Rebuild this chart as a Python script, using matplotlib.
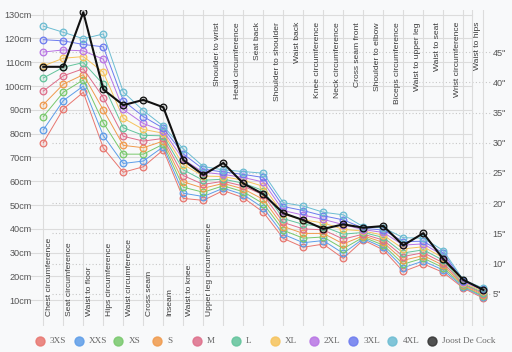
import matplotlib
matplotlib.use("Agg")
import matplotlib.pyplot as plt
from matplotlib.lines import Line2D

CATEGORIES = [
    "Chest circumference", "Seat circumference", "Waist to floor",
    "Hips circumference", "Waist circumference", "Cross seam", "Inseam",
    "Waist to knee", "Upper leg circumference", "Shoulder to wrist",
    "Head circumference", "Seat back", "Shoulder to shoulder", "Waist back",
    "Knee circumference", "Neck circumference", "Cross seam front",
    "Shoulder to elbow", "Biceps circumference", "Waist to upper leg",
    "Waist to seat", "Wrist circumference", "Waist to hips",
]
N_BOTTOM_LABELS = 9

SIZES = ["3XS", "XXS", "XS", "S", "M", "L", "XL", "2XL", "3XL", "4XL"]
COLORS = ["#e8766f", "#5d9de8", "#78c86c", "#f09a4c", "#de6e8a",
          "#62c39b", "#f6c35c", "#b874e4", "#6c7bef", "#6cbcd2"]

size_3xs = [76.2, 90.4, 97.4, 74.0, 63.8, 66.1, 73.2, 52.8, 52.0, 56.1, 53.1, 47.0,
            36.0, 32.3, 33.6, 27.6, 35.3, 31.2, 22.1, 25.3, 21.7, 15.1, 10.9]
size_xxs = [81.6, 93.9, 100.0, 79.2, 67.5, 68.5, 74.5, 55.0, 53.6, 57.1, 54.4, 48.8,
            37.7, 34.2, 35.1, 29.7, 35.9, 32.2, 23.7, 26.5, 22.7, 15.5, 11.4]
size_xs = [87.2, 97.4, 102.6, 84.6, 71.4, 71.4, 75.6, 57.5, 55.4, 58.1, 55.6, 50.6,
           39.4, 36.1, 36.6, 31.7, 36.5, 33.2, 25.2, 27.7, 23.7, 15.9, 11.8]
size_s = [92.2, 100.8, 104.8, 90.0, 75.1, 74.1, 76.9, 59.8, 57.1, 59.1, 56.8, 52.4,
          41.0, 38.1, 38.1, 33.7, 37.1, 34.3, 26.8, 28.8, 24.7, 16.3, 12.3]
size_m = [97.9, 104.3, 107.3, 95.2, 78.9, 76.9, 78.0, 62.4, 58.7, 60.0, 58.0, 54.3,
          42.7, 40.0, 39.6, 35.7, 37.8, 35.3, 28.4, 30.0, 25.7, 16.7, 12.8]
size_l = [103.4, 107.9, 109.9, 100.7, 82.5, 79.3, 79.1, 64.8, 60.4, 60.9, 59.2, 56.1,
          44.3, 41.9, 41.0, 37.8, 38.5, 36.4, 29.9, 31.2, 26.8, 17.0, 13.2]
size_xl = [108.5, 111.7, 112.4, 105.8, 86.5, 81.8, 80.2, 67.0, 62.2, 62.0, 60.4, 57.9,
           46.1, 43.8, 42.5, 39.8, 39.1, 37.4, 31.6, 32.5, 27.8, 17.4, 13.7]
size_2xl = [114.3, 115.2, 114.8, 111.3, 90.2, 84.3, 81.1, 69.2, 63.8, 62.9, 61.6, 59.7,
            47.7, 45.8, 44.0, 41.8, 39.7, 38.5, 33.2, 33.7, 28.8, 17.8, 14.2]
size_3xl = [119.5, 119.0, 117.5, 116.5, 93.9, 87.2, 82.3, 71.5, 65.1, 63.9, 62.9, 61.6,
            49.4, 47.7, 45.5, 43.8, 40.3, 39.5, 34.7, 34.8, 29.8, 18.2, 14.6]
size_4xl = [125.2, 122.6, 119.9, 121.9, 97.5, 89.7, 83.2, 73.6, 66.2, 64.8, 64.1, 63.4,
            51.0, 49.6, 47.0, 45.9, 40.9, 40.5, 36.3, 36.1, 30.9, 18.6, 15.1]
joost = [108.1, 108.1, 131.0, 98.6, 92.0, 94.2, 91.1, 68.9, 62.7, 67.7, 59.1, 54.6,
         46.6, 43.7, 40.0, 41.9, 40.5, 41.2, 33.1, 38.2, 27.3, 18.6, 14.4]

SIZE_VALUES = [size_3xs, size_xxs, size_xs, size_s, size_m, size_l,
               size_xl, size_2xl, size_3xl, size_4xl]

CM_TICKS = [10, 20, 30, 40, 50, 60, 70, 80, 90, 100, 110, 120, 130]
INCH_TICKS = [5, 10, 15, 20, 25, 30, 35, 40, 45]

BG = "#f8f9fa"
GRID = "#dcdcdc"
FONT = "Liberation Sans"

fig = plt.figure(figsize=(5.12, 3.52), dpi=100, facecolor=BG)
W, H = 512, 352
ax = fig.add_axes([30 / W, 1 - 326 / H, 462 / W, 316 / H])
ax.set_facecolor(BG)
for s in ax.spines.values():
    s.set_visible(False)

XMIN, XMAX = -0.665, 22.435
YMIN, YMAX = -0.8, 131.97
ax.set_xlim(XMIN, XMAX)
ax.set_ylim(YMIN, YMAX)
ax.set_xticks([])

# grid: solid cm lines, dotted inch lines, vertical category lines
for v in CM_TICKS:
    ax.plot([XMIN, 21.43], [v, v], color=GRID, lw=0.8, zorder=0)
for v in INCH_TICKS:
    ax.plot([0.435, 22.335], [v * 2.54, v * 2.54], color="#c8c8c8", lw=0.8,
            linestyle=(0, (1, 2)), zorder=0)
for i in range(len(CATEGORIES)):
    ax.axvline(i, color=GRID, lw=0.8, zorder=0)
ax.axvline(21.43, color=GRID, lw=0.8, zorder=0)

# category labels, first ones at the bottom, rest at the top
for i, name in enumerate(CATEGORIES):
    if i < N_BOTTOM_LABELS:
        ax.text(i + 0.32, 3.4, name, rotation=90, ha="center", va="bottom",
                fontsize=6.1, color="#3a3a3a", family=FONT)
    else:
        ax.text(i - 0.3, 126.9, name, rotation=90, ha="center", va="top",
                fontsize=6.1, color="#3a3a3a", family=FONT)

x = list(range(len(CATEGORIES)))
for vals, color in zip(SIZE_VALUES, COLORS):
    ax.plot(x, vals, color=color, lw=0.7, marker="o", ms=4.8,
            mfc=color + "2a", mec=color, mew=0.9, zorder=2)
ax.plot(x, joost, color="#111111", lw=1.5, marker="o", ms=4.8,
        mfc="#1111112a", mec="#111111", mew=0.9, zorder=3)

# left axis (cm)
ax.set_yticks(CM_TICKS)
ax.set_yticklabels([f"{v}cm" for v in CM_TICKS])
ax.tick_params(axis="y", length=0, pad=-1.5, labelsize=6.6, labelcolor="#555555")
for t in ax.get_yticklabels():
    t.set_family(FONT)

# right axis (inches)
ax2 = ax.twinx()
ax2.set_ylim(YMIN / 2.54, YMAX / 2.54)
for s in ax2.spines.values():
    s.set_visible(False)
ax2.set_yticks(INCH_TICKS)
ax2.set_yticklabels([f'{v}"' for v in INCH_TICKS])
ax2.tick_params(axis="y", length=0, pad=0.3, labelsize=6.6, labelcolor="#555555")
for t in ax2.get_yticklabels():
    t.set_family(FONT)

# legend
names = SIZES + ["Joost De Cock"]
cols = COLORS + ["#333333"]
cy = 1 - 341 / H
for i, (name, color) in enumerate(zip(names, cols)):
    cx = (40 + 39.15 * i) / W
    fig.add_artist(Line2D([cx], [cy], marker="o", ms=6.5, mfc=color, mec=color,
                          alpha=0.85, transform=fig.transFigure))
    fig.text(cx + 10 / W, cy, name, ha="left", va="center", fontsize=6.6,
             color="#666666", family="Liberation Serif")

fig.savefig("out.png", dpi=100, facecolor=BG)
